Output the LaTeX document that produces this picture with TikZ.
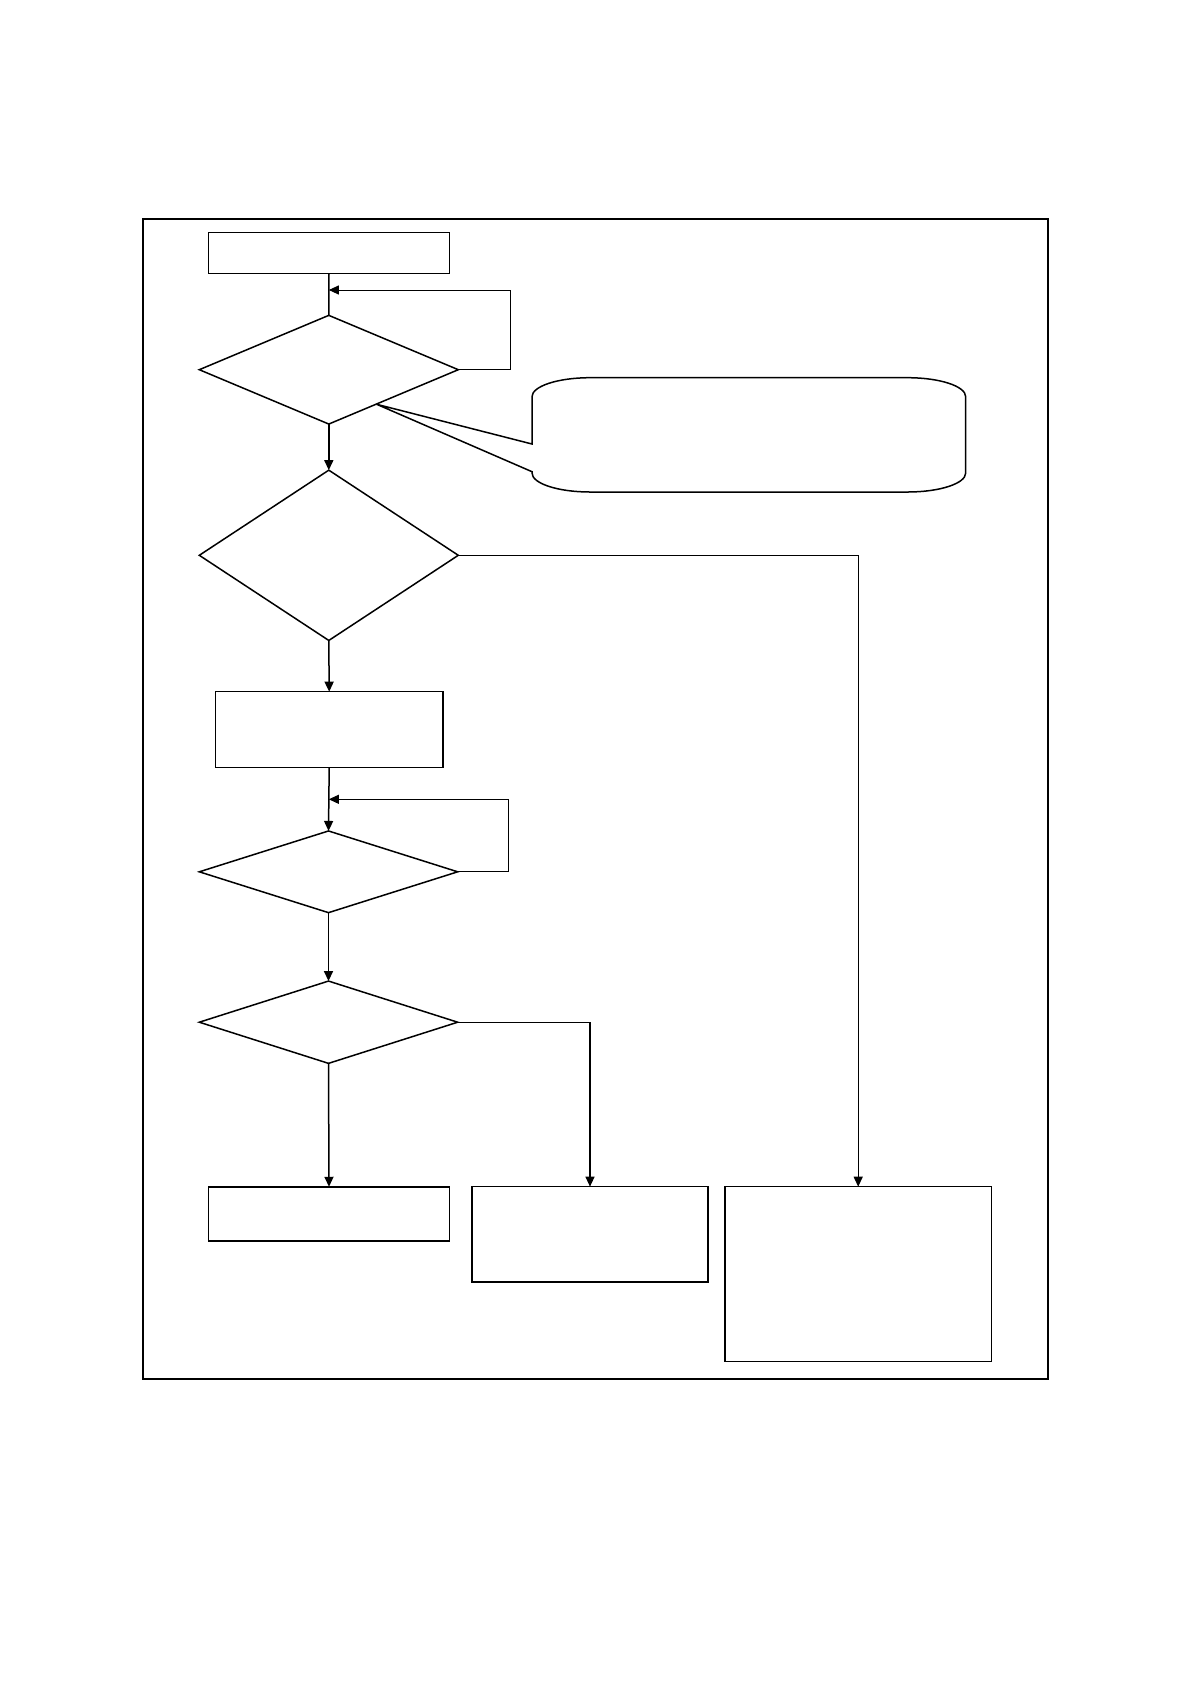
\documentclass[tikz,border=0pt]{standalone}
\usetikzlibrary{shapes.geometric,arrows.meta}
\begin{document}
\begin{tikzpicture}[x=1pt,y=-1pt,
  boxnode/.style={draw,rectangle,line width=1.5pt,inner sep=0pt,outer sep=0pt},
  decnode/.style={draw,diamond,line width=1.5pt,inner sep=0pt,outer sep=0pt},
  flow/.style={line width=1.5pt,-{Triangle[length=10pt,width=9pt]}},
  plainflow/.style={line width=1.5pt},
  loopline/.style={line width=1pt,-{Triangle[length=10pt,width=9pt]}},
  longline/.style={line width=1.2pt,-{Triangle[length=10pt,width=9pt]}}]
\useasboundingbox (0,0) rectangle (1190,1684);
% outer frame
\draw[line width=1.8pt] (142.7,219) rectangle (1048.3,1379);
% nodes
\node[boxnode,minimum width=240.6pt,minimum height=40.6pt] (top) at (329,253) {};
\node[decnode,minimum width=259pt,minimum height=108.7pt] (d1) at (328.8,369.7) {};
\node[decnode,minimum width=259pt,minimum height=170.3pt] (d2) at (328.8,555.3) {};
\node[boxnode,minimum width=227.7pt,minimum height=76pt] (b3) at (329.2,729.7) {};
\node[decnode,minimum width=258.4pt,minimum height=81.7pt] (d3) at (328.5,871.8) {};
\node[decnode,minimum width=258.4pt,minimum height=82.3pt] (d4) at (328.5,1022.2) {};
\node[boxnode,minimum width=240.6pt,minimum height=54.3pt] (b4) at (329,1213.9) {};
\node[boxnode,minimum width=236pt,minimum height=95.3pt] (b5) at (590,1234.3) {};
\node[boxnode,minimum width=266.3pt,minimum height=175pt] (b6) at (858.2,1274.2) {};
\coordinate (j1) at (328.8,290);
\coordinate (j2) at (328.8,799.3);
% connectors
\draw[plainflow] (top.south) -- (d1.north);
\draw[loopline] (d1.east) -- ++(51.7,0) |- (j1);
\draw[flow] (d1.south) -- (d2.north);
\draw[longline] (d2.east) -| (b6.north);
\draw[flow] (d2.south) -- (b3.north);
\draw[flow] (b3.south) -- (d3.north);
\draw[loopline] (d3.east) -- ++(51,0) |- (j2);
\draw[flow] (d3.south) -- (d4.north);
\draw[flow] (d4.south) -- (b4.north);
\draw[longline] (d4.east) -| (b5.north);
% callout
\coordinate (tip) at (376.7,404.3);
\draw[line width=1.5pt,line join=miter]
  (532,444) -- (532,396.7)
  arc[start angle=180,end angle=90,x radius=58pt,y radius=19pt]
  -- (907.7,377.7)
  arc[start angle=90,end angle=0,x radius=58pt,y radius=19pt]
  -- (965.7,473)
  arc[start angle=0,end angle=-90,x radius=58pt,y radius=19pt]
  -- (590,492)
  arc[start angle=270,end angle=180,x radius=58pt,y radius=19pt]
  -- (532,471.7) -- (tip) -- cycle;
\end{tikzpicture}
\end{document}
